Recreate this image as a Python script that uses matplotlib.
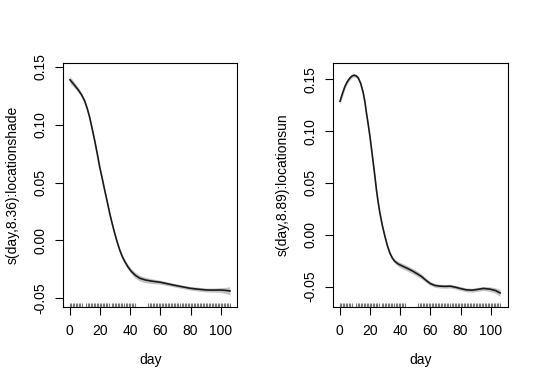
import numpy as np
import matplotlib
matplotlib.use("Agg")
from matplotlib import pyplot as plt

plt.rcParams["font.family"] = ["Liberation Sans", "DejaVu Sans"]

# smooth for location = shade
shade_day = [0.3, 3.0, 5.7, 8.0, 10.1, 11.8, 13.4, 15.0, 16.7, 18.4, 20.0, 21.7, 23.3, 25.0,
             26.6, 28.3, 29.9, 31.5, 33.2, 34.8, 36.5, 38.7, 40.9, 43.5, 46.4, 50.0, 54.1,
             60.0, 68.6, 74.0, 79.6, 85.0, 90.6, 95.0, 99.4, 103.0, 106.0]
shade_fit = [0.1389, 0.1347, 0.1303, 0.1258, 0.1203, 0.1136, 0.1060, 0.0963, 0.0859, 0.0745,
             0.0631, 0.0530, 0.0431, 0.0330, 0.0231, 0.0140, 0.0059, -0.0015, -0.0084, -0.0138,
             -0.0183, -0.0231, -0.0269, -0.0302, -0.0327, -0.0342, -0.0352,
             -0.0362, -0.0386, -0.0400, -0.0414, -0.0422, -0.0429, -0.0430, -0.0429, -0.0432, -0.0437]
shade_se = [0.0030, 0.0025, 0.0021, 0.0018, 0.0016, 0.0014, 0.0013, 0.0012, 0.0012, 0.0012,
            0.0012, 0.0012, 0.0012, 0.0012, 0.0012, 0.0012, 0.0013, 0.0014, 0.0015, 0.0017,
            0.0019, 0.0021, 0.0023, 0.0025, 0.0025, 0.0024, 0.0021,
            0.0017, 0.0015, 0.0015, 0.0016, 0.0017, 0.0017, 0.0018, 0.0020, 0.0026, 0.0036]

# smooth for location = sun
sun_day = [0.3, 2.0, 3.6, 5.2, 6.9, 8.2, 9.5, 11.0, 12.4, 14.0, 15.7, 16.8, 17.8, 19.0, 20.1,
           21.2, 22.3, 23.4, 24.4, 25.5, 26.7, 28.3, 30.0, 31.6, 33.3, 35.0, 36.6, 39.0,
           42.1, 45.5, 48.7, 51.5, 54.2, 57.0, 59.9, 63.0, 66.5, 70.0, 73.1, 76.5, 79.7,
           83.5, 87.4, 91.0, 95.1, 99.5, 103.0, 106.1]
sun_fit = [0.1288, 0.1365, 0.1432, 0.1478, 0.1513, 0.1531, 0.1539, 0.1533, 0.1513, 0.1460,
           0.1368, 0.1280, 0.1175, 0.1062, 0.0950, 0.0822, 0.0692, 0.0562, 0.0434, 0.0318,
           0.0209, 0.0090, -0.0015, -0.0104, -0.0177, -0.0227, -0.0257, -0.0283,
           -0.0305, -0.0328, -0.0353, -0.0377, -0.0402, -0.0437, -0.0469, -0.0488, -0.0495,
           -0.0497, -0.0495, -0.0505, -0.0517, -0.0530, -0.0534, -0.0527, -0.0517, -0.0524,
           -0.0537, -0.0560]
sun_se = [0.0030, 0.0026, 0.0022, 0.0020, 0.0018, 0.0017, 0.0016, 0.0016, 0.0016, 0.0016,
          0.0016, 0.0015, 0.0015, 0.0015, 0.0014, 0.0014, 0.0014, 0.0013, 0.0013, 0.0013,
          0.0013, 0.0013, 0.0013, 0.0014, 0.0016, 0.0018, 0.0021, 0.0024,
          0.0026, 0.0026, 0.0026, 0.0025, 0.0023, 0.0021, 0.0019, 0.0018, 0.0018,
          0.0018, 0.0018, 0.0018, 0.0019, 0.0019, 0.0019, 0.0019, 0.0020, 0.0022,
          0.0026, 0.0034]

# observed days (rug)
rug_days = [0, 1, 2, 3, 4, 5, 6, 7, 8,
            11, 12, 13, 14, 15, 16, 17, 18, 19, 20, 21, 22, 23, 24, 25, 26,
            28, 29, 30, 31, 32, 33, 34, 35, 36, 37, 38, 39, 40, 41, 42, 43,
            52, 53, 54, 55, 56, 57, 58, 59, 60, 61, 62, 63, 64, 65, 66, 67, 68, 69,
            70, 71, 72, 73, 74, 75, 76, 77, 78, 79, 80, 81, 82, 83, 84, 85, 86, 87,
            88, 89, 90, 91, 92, 93, 94, 95, 96, 97, 98, 99, 100, 101, 102, 103, 104,
            105, 106]

x_ticks = [0, 20, 40, 60, 80, 100]
shade_yticks = [-0.05, 0.00, 0.05, 0.10, 0.15]
sun_yticks = [-0.05, 0.00, 0.05, 0.10, 0.15]

panels = [
    (shade_day, shade_fit, shade_se, "s(day,8.36):locationshade", shade_yticks, (-0.0576, 0.1534)),
    (sun_day, sun_fit, sun_se, "s(day,8.89):locationsun", sun_yticks, (-0.0696, 0.1657)),
]

fig = plt.figure(figsize=(5.4, 3.86), dpi=100)
lefts = [63, 333]
for left, (d, f, se, lab, yt, ylim) in zip(lefts, panels):
    ax = fig.add_axes([left / 540, 79 / 386, 174.5 / 540, 244 / 386])
    d = np.array(d)
    f = np.array(f)
    se = np.array(se)
    ax.fill_between(d, f - se, f + se, color="#c4c4c4", lw=0)
    ax.plot(d, f, color="#1a1a1a", lw=1.2)
    ax.set_xlim(-4.3, 111)
    ax.set_ylim(*ylim)
    # rug along the bottom
    ax.vlines(rug_days, ylim[0], ylim[0] + (ylim[1] - ylim[0]) * 0.018,
              color="#777777", lw=0.8)
    ax.set_xticks(x_ticks)
    ax.set_xticklabels([str(t) for t in x_ticks])
    ax.set_yticks(yt)
    ax.set_yticklabels(["%.2f" % t for t in yt], rotation=90, va="center")
    ax.tick_params(length=6, width=0.8, labelsize=10, pad=5, direction="out")
    ax.tick_params(axis="x", pad=6)
    for s in ax.spines.values():
        s.set_linewidth(0.8)
    ax.set_xlabel("day", fontsize=10, labelpad=11)
    ax.set_ylabel(lab, fontsize=10, labelpad=10)

fig.savefig("out.png", dpi=100)
